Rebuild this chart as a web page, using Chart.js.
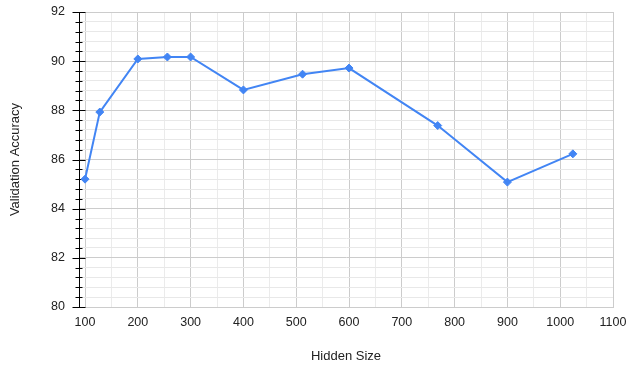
<!DOCTYPE html>
<html>
<head>
<meta charset="utf-8">
<script src="https://cdn.jsdelivr.net/npm/chart.js@4"></script>
<style>
  html, body { margin: 0; padding: 0; background: #fff; }
  canvas { display: block; }
</style>
</head>
<body>
<canvas id="chart" width="628" height="365"></canvas>
<script>
// Validation accuracy for each hidden-layer size
const hiddenSizes = [100, 128, 200, 256, 300, 400, 512, 600, 768, 900, 1024];
const accuracy = [85.2, 87.93, 90.09, 90.17, 90.17, 88.83, 89.47, 89.72, 87.38, 85.08, 86.23];

// Axis ticks
const xMajorTicks = [100, 200, 300, 400, 500, 600, 700, 800, 900, 1000, 1100];
const xMinorTicks = [150, 250, 350, 450, 550, 650, 750, 850, 950, 1050];
const yMajorTicks = [80, 82, 84, 86, 88, 90, 92];
const yMinorPerMajor = 5;

const TEXT = '#222222';
const FONT = 'Arial, "Liberation Sans", sans-serif';
const TICK_SIZE = 12.5;

const xTickValues = xMajorTicks.concat(xMinorTicks).sort((a, b) => a - b);
const yTickValues = [];
yMajorTicks.forEach((v, i) => {
  yTickValues.push({ value: v, major: true });
  if (i < yMajorTicks.length - 1) {
    const step = (yMajorTicks[i + 1] - v) / yMinorPerMajor;
    for (let k = 1; k < yMinorPerMajor; k++) {
      yTickValues.push({ value: +(v + k * step).toFixed(4), major: false });
    }
  }
});
const isYMajor = v => yMajorTicks.some(m => Math.abs(m - v) < 1e-6);

// Black tick marks across the left axis line
const axisTicks = {
  id: 'axisTicks',
  beforeDatasetsDraw(chart) {
    const ys = chart.scales.y;
    const x0 = Math.round(chart.chartArea.left) + 0.5;
    const ctx = chart.ctx;
    ctx.save();
    ctx.strokeStyle = '#000';
    ctx.lineWidth = 1;
    ctx.beginPath();
    yTickValues.forEach(t => {
      const py = Math.round(ys.getPixelForValue(t.value)) + 0.5;
      if (t.major) {
        ctx.moveTo(x0 - 7, py);
        ctx.lineTo(x0 + 6, py);
      } else {
        ctx.moveTo(x0 - 4, py);
        ctx.lineTo(x0 + 3, py);
      }
    });
    ctx.stroke();
    ctx.restore();
  }
};

new Chart(document.getElementById('chart'), {
  type: 'line',
  data: {
    datasets: [{
      data: hiddenSizes.map((x, i) => ({ x, y: accuracy[i] })),
      borderColor: '#4285F4',
      backgroundColor: '#4285F4',
      borderWidth: 2,
      tension: 0,
      pointStyle: 'rectRot',
      pointRadius: 4,
      pointBorderWidth: 1,
      pointHoverRadius: 4
    }]
  },
  options: {
    responsive: false,
    animation: false,
    events: [],
    layout: { padding: { top: 12, right: 15, left: 0, bottom: 0 } },
    plugins: { legend: { display: false }, tooltip: { enabled: false } },
    scales: {
      x: {
        type: 'linear',
        position: 'bottom',
        min: 88.6,
        max: 1100,
        afterBuildTicks: s => { s.ticks = xTickValues.map(v => ({ value: v })); },
        afterFit: s => {
          s.height = 58;
          s.paddingLeft = 0;
          s.paddingRight = 0;
        },
        ticks: {
          autoSkip: false,
          maxRotation: 0,
          padding: 8,
          color: TEXT,
          font: { family: FONT, size: TICK_SIZE },
          callback: v => (xMajorTicks.includes(v) ? String(v) : '')
        },
        grid: {
          drawTicks: false,
          color: c => (c.tick && xMajorTicks.includes(c.tick.value) ? '#cccccc' : '#ebebeb')
        },
        border: { color: '#cccccc' },
        title: {
          display: true,
          text: 'Hidden Size',
          color: TEXT,
          font: { family: FONT, size: 13 },
          padding: { top: 0, bottom: 1 }
        }
      },
      y: {
        type: 'linear',
        min: 80,
        max: 92,
        afterBuildTicks: s => { s.ticks = yTickValues.map(t => ({ value: t.value })); },
        afterFit: s => {
          s.width = 79;
          s.paddingTop = 0;
          s.paddingBottom = 0;
        },
        ticks: {
          autoSkip: false,
          padding: 14,
          color: TEXT,
          font: { family: FONT, size: TICK_SIZE },
          callback: v => (isYMajor(v) ? String(Math.round(v)) : '')
        },
        grid: {
          drawTicks: false,
          color: c => (c.tick && isYMajor(c.tick.value) ? '#cccccc' : '#e8e8e8')
        },
        border: { color: '#000000' },
        title: {
          display: true,
          text: 'Validation Accuracy',
          color: TEXT,
          font: { family: FONT, size: 13 },
          padding: { top: 8, bottom: 0 }
        }
      }
    }
  },
  plugins: [axisTicks]
});
</script>
</body>
</html>
